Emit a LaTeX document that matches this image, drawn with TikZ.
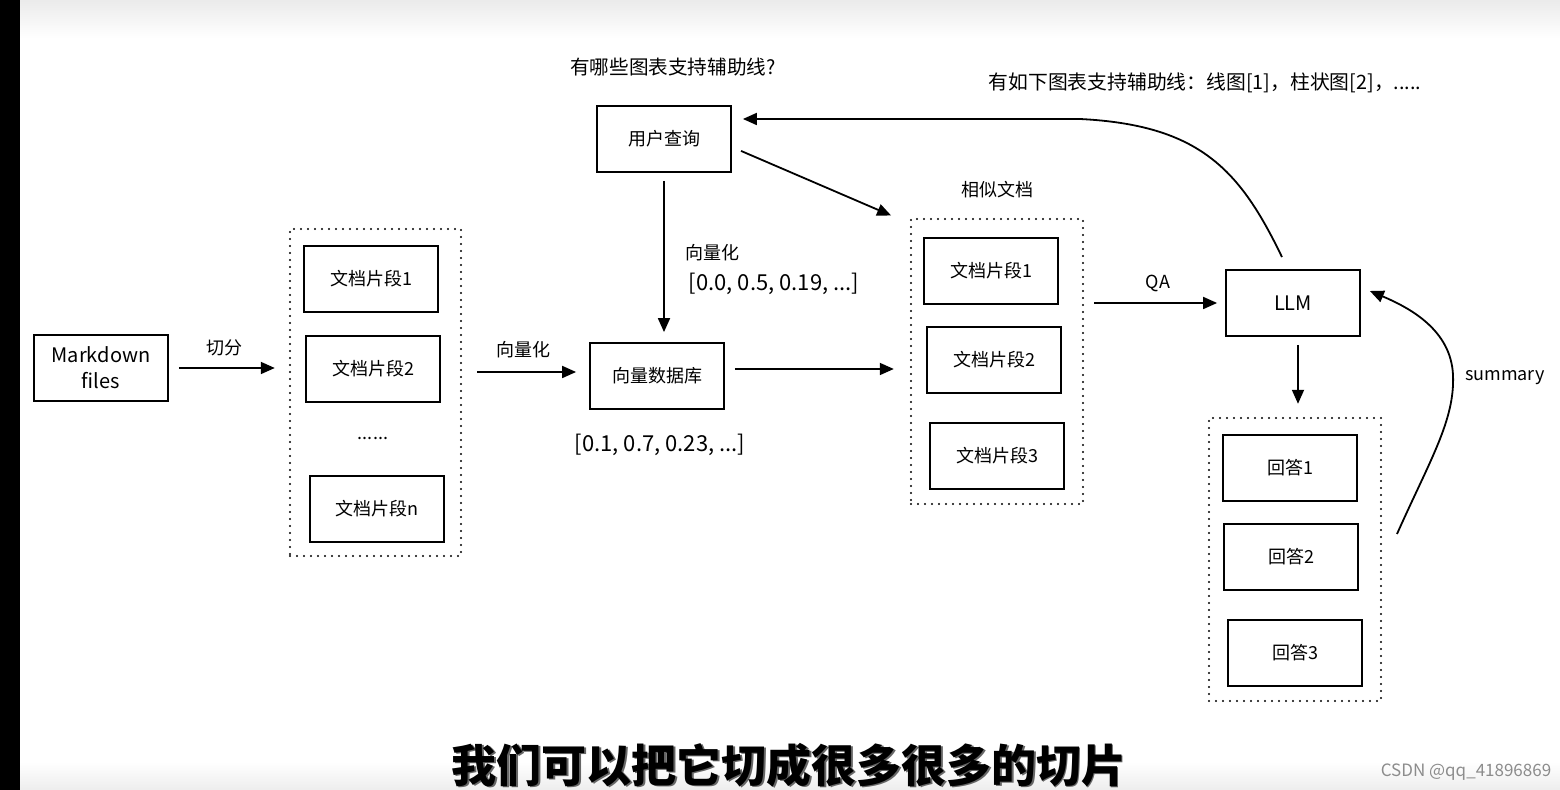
\documentclass[tikz,border=0pt]{standalone}
\usepackage{fontspec}
\setmainfont{Noto Sans CJK SC}
\usetikzlibrary{arrows.meta}
\tikzset{
  box/.style={draw, line width=0.9pt, minimum width=67pt, minimum height=33pt, inner sep=0pt, align=center, font=\fontsize{9}{12}\selectfont},
  group/.style={draw, line width=1.2pt, line cap=round, dash pattern=on 0pt off 3.5pt, inner sep=0pt},
  arr/.style={line width=0.9pt, -{Triangle[length=7pt,width=6pt]}},
  lbl/.style={font=\fontsize{9}{11}\selectfont, inner sep=0pt},
  vec/.style={font=\fontsize{11}{13}\selectfont, inner sep=0pt},
}
\begin{document}
\begin{tikzpicture}[x=0.5pt,y=-0.5pt]
\useasboundingbox (0,0) rectangle (1560,790);
\fill[white] (0,0) rectangle (1560,790);
\shade[top color=black!8, bottom color=white] (20,0) rectangle (1560,38);
\shade[top color=white, bottom color=black!7] (20,762) rectangle (1560,790);
\fill[black] (0,0) rectangle (20,790);

% containers
\node[group, minimum width=85.5pt, minimum height=163.5pt] (c1) at (375.5,392.5) {};
\node[group, minimum width=86pt, minimum height=142.5pt] (c2) at (997,361.5) {};
\node[group, minimum width=86pt, minimum height=141.5pt] (c3) at (1295,559.5) {};

% boxes
\node[box, font=\fontsize{10}{13}\selectfont] (md) at (101,368) {Markdown\\files};
\node[box] (d1) at (371,279) {文档片段1};
\node[box] (d2) at (373,369) {文档片段2};
\node[lbl] (dots) at (373,438) {......};
\node[box] (dn) at (377,509) {文档片段n};
\node[box] (db) at (657,376) {向量数据库};
\node[box] (uq) at (664,139) {用户查询};
\node[box] (s1) at (991,271) {文档片段1};
\node[box] (s2) at (994,360) {文档片段2};
\node[box] (s3) at (997,456) {文档片段3};
\node[box, font=\fontsize{10}{12}\selectfont] (llm) at (1293,303) {LLM};
\node[box] (a1) at (1290,468) {回答1};
\node[box] (a2) at (1291,557) {回答2};
\node[box] (a3) at (1295,653) {回答3};

% free labels
\node[lbl, font=\fontsize{9.8}{11}\selectfont] (q) at (673,67) {有哪些图表支持辅助线?};
\node[lbl, font=\fontsize{9.9}{11}\selectfont] (ans) at (1205,83) {有如下图表支持辅助线：线图[1]，柱状图[2]，.....};
\node[lbl] (sim) at (997,190) {相似文档};
\node[vec] (v1) at (660,445) {[0.1, 0.7, 0.23, ...]};
\node[lbl] (vl2) at (712,253) {向量化};
\node[vec] (v2) at (774,284) {[0.0, 0.5, 0.19, ...]};
\node[lbl] (qa) at (1158,283) {QA};
\node[lbl] (sum) at (1505,378) {summary};
\node[lbl] (cut) at (224,348) {切分};
\node[lbl] (vl1) at (523,350) {向量化};

% connectors
\draw[arr, shorten <=5pt, shorten >=7pt] (md.east) -- (md.east -| c1.west);
\draw[arr, shorten <=7.5pt, shorten >=6.5pt] (c1.east |- 0,372) -- (db.west |- 0,372);
\draw[arr, shorten <=4pt, shorten >=5pt] (uq.south) -- (uq.south |- db.north);
\draw[arr, shorten <=5pt, shorten >=8pt] (db.east |- 0,369) -- (c2.west |- 0,369);
\draw[arr, shorten <=5pt, shorten >=8pt] ([yshift=-4pt]uq.east) -- ([shift={(-4,4)}]c2.north west);
\draw[arr, shorten <=5pt, shorten >=4pt] (c2.east |- llm.west) -- (llm.west);
\draw[arr, shorten <=4pt, shorten >=6.5pt] (llm.south -| 1298,0) -- (c3.north -| 1298,0);
\coordinate (sumS) at (1397,534);
\draw[arr] (sumS) .. controls (1430,460) and (1455,420) .. (1453,375)
  .. controls (1451,330) and (1410,308) .. ([shift={(9,-12)}]llm.east);
\draw[arr] ([shift={(-11,-12)}]llm.north) .. controls (1240,170) and (1200,125) .. (1080,119)
  -- ([shift={(11,-20)}]uq.east);

% subtitle and watermark
\node[inner sep=0pt, font=\fontsize{22.5}{26}\selectfont\bfseries, text=black!60] (subs) at (790.5,766.5) {我们可以把它切成很多很多的切片};
\node[inner sep=0pt, font=\fontsize{22.5}{26}\selectfont\bfseries] (sub) at (789,765) {我们可以把它切成很多很多的切片};
\node[inner sep=0pt, font=\fontsize{8.5}{10}\selectfont, text=black!45] (wm) at (1466,772) {CSDN @qq\_41896869};
\end{tikzpicture}
\end{document}
